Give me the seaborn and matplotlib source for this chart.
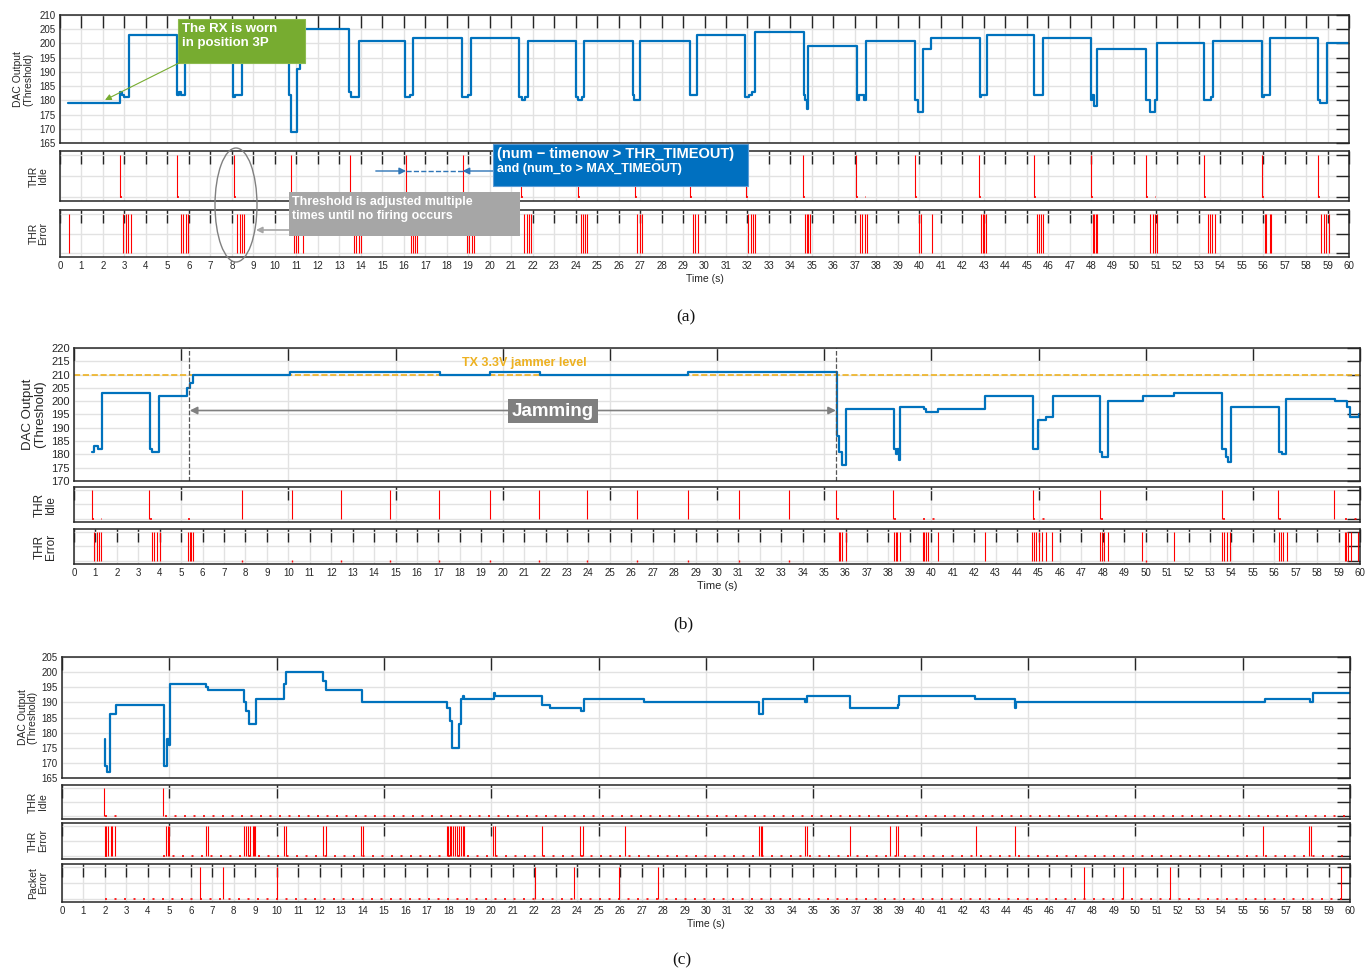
import numpy as np
import pandas as pd
import seaborn as sns
import matplotlib.pyplot as plt
from matplotlib.ticker import MultipleLocator
from matplotlib.patches import Rectangle, Ellipse

W, H = 1371, 969

# ---------------- (a) RX worn in position 3P ----------------
a_t = [0.37, 2.80, 2.88, 2.98, 3.20, 5.43, 5.55, 5.65, 5.82, 8.06, 8.15, 8.46,
       10.68, 10.74, 11.02, 11.15, 13.43, 13.54, 13.90, 16.07, 16.30, 16.45,
       18.71, 18.97, 19.12, 21.38, 21.50, 21.65, 21.77, 24.03, 24.10, 24.28, 24.37,
       26.66, 26.74, 27.01, 29.34, 29.65, 31.90, 32.05, 32.20, 32.34,
       34.62, 34.70, 34.75, 34.82, 37.10, 37.18, 37.41, 37.54, 39.82, 39.93, 40.18, 40.55,
       42.82, 42.88, 43.13, 45.36, 45.74, 47.97, 48.05, 48.13, 48.29,
       50.56, 50.73, 50.96, 51.05, 53.25, 53.56, 53.67, 55.94, 56.05, 56.32,
       58.58, 58.66, 58.96, 60.00]
a_v = [179, 183, 182, 181, 203, 182, 183, 182, 205, 181, 182, 205,
       182, 169, 191, 205, 183, 181, 201, 181, 182, 202,
       181, 182, 202, 181, 180, 181, 201, 181, 180, 181, 201,
       182, 180, 201, 182, 203, 181, 182, 183, 204,
       182, 180, 177, 199, 180, 182, 180, 201, 180, 176, 198, 202,
       181, 182, 203, 182, 202, 180, 182, 178, 198,
       180, 176, 180, 200, 180, 181, 201, 181, 182, 202,
       180, 179, 200, 200]
a_idle = [2.78, 5.45, 8.12, 10.76, 13.48, 16.11, 18.74, 21.46, 24.12, 26.76, 29.33,
          31.92, 34.60, 37.06, 39.78, 42.80, 45.36, 47.98, 50.55, 53.27, 55.95, 58.58]
a_err = [0.40, 2.95, 3.05, 3.18, 3.30, 5.62, 5.72, 5.85, 5.95, 8.25, 8.37, 8.47, 8.57,
         10.87, 10.98, 11.10, 11.30, 13.70, 13.80, 13.90, 14.00, 16.33, 16.43, 16.53, 16.63,
         18.95, 19.05, 19.17, 19.28, 21.62, 21.72, 21.82, 21.92, 24.25, 24.35, 24.45, 24.55,
         26.88, 26.98, 27.10, 29.45, 29.55, 29.70, 32.03, 32.15, 32.25, 32.37,
         34.68, 34.75, 34.82, 34.90, 37.22, 37.33, 37.45, 37.56, 40.00, 40.10, 40.57,
         42.88, 42.95, 43.02, 43.08, 45.47, 45.57, 45.67, 45.77, 48.08, 48.15, 48.22, 48.28,
         50.75, 50.87, 50.97, 51.08, 53.43, 53.53, 53.63, 53.74, 56.07, 56.15, 56.30, 56.37,
         58.70, 58.82, 58.93, 59.05]
# short runs of zero samples right after each idle firing
a_idle_zero = [(2.80, 3.20), (5.45, 5.80), (8.12, 8.50), (10.76, 11.05), (13.48, 13.85),
               (16.11, 16.45), (18.74, 19.10), (21.46, 21.75), (24.12, 24.40), (26.76, 27.05),
               (29.33, 29.65), (31.92, 32.30), (34.60, 34.85), (37.06, 37.50), (39.78, 40.20),
               (42.80, 43.10), (45.36, 45.75), (47.98, 48.30), (50.55, 51.00), (53.27, 53.65),
               (55.95, 56.30), (58.58, 58.95)]

# ---------------- (b) jamming ----------------
b_t = [0.82, 0.92, 1.13, 1.29, 3.55, 3.65, 3.95, 5.29, 5.43, 5.53, 10.10, 17.07, 19.39,
       21.74, 28.66, 35.59, 35.71, 35.83, 36.00, 38.26, 38.36, 38.42, 38.47, 38.53,
       39.66, 39.76, 40.33, 42.49, 44.73, 44.96, 45.37, 45.66, 47.88, 47.98, 48.25,
       49.87, 51.31, 53.57, 53.73, 53.83, 54.00, 56.24, 56.34, 56.57, 58.83, 59.38,
       59.55, 59.96, 60.00]
b_v = [181, 183, 182, 203, 182, 181, 202, 205, 207, 210, 211, 210, 211,
       210, 211, 187, 181, 176, 197, 182, 180, 182, 178, 198,
       197, 196, 197, 202, 182, 193, 194, 202, 181, 179, 200,
       202, 203, 182, 179, 177, 198, 181, 180, 201, 200, 198,
       194, 195, 195]
b_idle = [0.82, 3.50, 7.85, 10.16, 12.48, 14.73, 17.05, 19.39, 21.70, 23.93, 26.25,
          28.66, 31.03, 33.35, 35.55, 38.20, 44.73, 47.88, 53.55, 56.16, 58.79]
b_err = [0.95, 1.05, 1.15, 1.28, 3.65, 3.75, 3.88, 4.00, 5.33, 5.40, 5.48, 5.55,
         35.68, 35.75, 35.82, 36.00, 38.25, 38.35, 38.42, 38.52, 39.60, 39.68, 39.77, 39.86,
         40.33, 42.49, 44.72, 44.80, 44.90, 45.04, 45.14, 45.35, 45.62, 47.88, 47.95, 48.05,
         48.25, 49.83, 51.31, 53.57, 53.65, 53.78, 53.95, 56.24, 56.30, 56.42, 56.60,
         59.28, 59.35, 59.45, 59.60, 59.90]
b_idle_zero = [(0.85, 1.30), (3.55, 3.95), (5.30, 5.55), (35.60, 35.90), (38.25, 38.55),
               (39.60, 40.30), (44.75, 45.60), (47.90, 48.30), (53.60, 54.00), (56.20, 56.60),
               (59.30, 60.00)]
b_err_zero = [7.85, 10.16, 12.48, 14.73, 17.05, 19.39, 21.70, 23.93, 26.25, 28.66,
              31.03, 33.35, 50.00]
b_jam_start = 5.35
b_jam_end = 35.55
b_jammer_level = 210

# ---------------- (c) packet errors ----------------
c_t = [1.99, 2.01, 2.09, 2.25, 2.50, 4.75, 4.88, 4.98, 5.02, 6.72, 6.80, 8.50, 8.56, 8.71,
       9.02, 10.35, 10.45, 12.15, 12.30, 13.98, 17.93, 18.07, 18.18, 18.50, 18.57, 18.70,
       18.75, 20.12, 20.18, 22.34, 22.75, 24.18, 24.32, 27.09, 32.47, 32.67, 34.62, 34.70,
       36.72, 38.94, 39.00, 42.53, 44.38, 44.46, 56.03, 58.15, 58.29, 60.00]
c_v = [178, 169, 167, 186, 189, 169, 178, 176, 196, 195, 194, 190, 187, 183,
       191, 196, 200, 197, 194, 190, 188, 184, 175, 183, 191, 192,
       191, 193, 192, 189, 188, 187, 191, 190, 186, 191, 190, 192,
       188, 189, 192, 191, 188, 190, 191, 190, 193, 193]
c_idle = [1.95, 4.71]
c_err = [2.00, 2.07, 2.15, 2.27, 2.35, 2.48, 4.86, 4.95, 5.00, 6.72, 6.78, 8.50, 8.58,
         8.68, 8.78, 8.88, 8.95, 9.00, 10.35, 10.42, 12.15, 12.28, 13.95, 14.00, 17.93,
         18.00, 18.07, 18.13, 18.20, 18.30, 18.40, 18.50, 18.60, 18.68, 18.75, 20.08,
         20.15, 22.34, 24.15, 24.28, 26.23, 32.45, 32.55, 32.63, 34.62, 34.70, 36.72,
         38.57, 38.85, 38.95, 42.57, 44.38, 55.93, 58.09, 58.20]
c_pkt = [6.45, 7.50, 10.03, 22.05, 23.87, 25.97, 27.76, 47.62, 49.43, 51.62, 59.60]
c_idle_zero = [(2.00, 2.60), (4.80, 60.00)]
c_err_zero = [(2.00, 2.10), (4.70, 60.00)]
c_pkt_zero = [(2.00, 60.00)]

BLUE = '#0072BD'
RED = '#FF0000'
INK = '#262626'

sns.set_style('white')
plt.rcParams['font.family'] = ['Liberation Sans', 'DejaVu Sans']
plt.rcParams['axes.edgecolor'] = INK
plt.rcParams['axes.linewidth'] = 1.1

fig = plt.figure(figsize=(W / 100, H / 100), dpi=100)
TL = 13 * 0.72  # matlab style long ticks (px -> pt)


def add_ax(left, top, right, bottom):
    return fig.add_axes([left / W, 1 - bottom / H, (right - left) / W, (bottom - top) / H])


def style(ax, xstep, ylim, yticks, fs=7, ylabels=True):
    ax.set_xlim(0, 60)
    ax.set_ylim(*ylim)
    ax.xaxis.set_major_locator(MultipleLocator(xstep))
    ax.set_yticks(yticks)
    if not ylabels:
        ax.set_yticklabels([])
    ax.tick_params(direction='in', length=TL, width=1.0, top=True, right=True,
                   colors=INK, labelsize=fs, labelbottom=False, pad=3)
    ax.grid(True, color='#E2E2E2', lw=1)
    ax.set_axisbelow(True)
    for s in ax.spines.values():
        s.set_color(INK)
        s.set_linewidth(1.1)


def step(ax, t, v):
    df = pd.DataFrame({'t': t, 'v': v})
    sns.lineplot(data=df, x='t', y='v', ax=ax, drawstyle='steps-post', color=BLUE,
                 lw=1.6, estimator=None, sort=False)
    ax.set_xlabel('')


def events(ax, ev):
    ax.vlines(ev, 0, 1, color=RED, lw=0.8)


def zero_dots(ax, segs):
    for s, e in segs:
        ax.plot([s, e], [0, 0], color=RED, lw=1.2, ls=(0, (1.2, 4.5)))


def ylab(ax, text, x, fs):
    ax.set_ylabel(text, fontsize=fs, color=INK, linespacing=1.0)
    ax.yaxis.set_label_coords(x, 0.5)


def bottom_axis(ax, fs):
    ax.tick_params(labelbottom=True)
    ax.set_xlabel('Time (s)', fontsize=fs, color=INK, labelpad=2)


ev_ylim = (-0.1, 1.1)
ev_ticks = [0, 0.5, 1]

# ---------------- panel (a) ----------------
ax1 = add_ax(60, 15, 1349, 143)
step(ax1, a_t, a_v)
style(ax1, 1, (165, 210), range(165, 211, 5))
ylab(ax1, 'DAC Output\n(Threshold)', -0.021, 7.5)

ax2 = add_ax(60, 151, 1349, 201)
events(ax2, a_idle)
zero_dots(ax2, a_idle_zero)
style(ax2, 1, ev_ylim, ev_ticks, ylabels=False)
ylab(ax2, 'THR\nIdle', -0.009, 7.5)

ax3 = add_ax(60, 210, 1349, 257)
events(ax3, a_err)
style(ax3, 1, ev_ylim, ev_ticks, ylabels=False)
ylab(ax3, 'THR\nError', -0.009, 7.5)
bottom_axis(ax3, 7.5)

# blue timeout arrows between two idle firings
arr_blue = '#2E75B6'
ax2.annotate('', xy=(a_idle[5], 0.62), xytext=(14.7, 0.62), annotation_clip=False,
             arrowprops=dict(arrowstyle='-|>', color=arr_blue, lw=1.0, shrinkA=0, shrinkB=0,
                             mutation_scale=10))
ax2.annotate('', xy=(a_idle[6], 0.62), xytext=(20.2, 0.62), annotation_clip=False,
             arrowprops=dict(arrowstyle='-|>', color=arr_blue, lw=1.0, shrinkA=0, shrinkB=0,
                             mutation_scale=10))
ax2.plot([a_idle[5], a_idle[6]], [0.62, 0.62], color=arr_blue, lw=1.0, ls='--')

# ---------------- panel (b) ----------------
bx1 = add_ax(74, 348, 1360, 481)
step(bx1, b_t, b_v)
style(bx1, 5, (170, 220), range(170, 221, 5), fs=8)
ylab(bx1, 'DAC Output\n(Threshold)', -0.022, 9.5)
bx1.axhline(b_jammer_level, color='#EDB120', ls='--', lw=1.2, zorder=1.5)
bx1.axvline(b_jam_start, color='#555555', ls='--', lw=0.9)
bx1.axvline(b_jam_end, color='#555555', ls='--', lw=0.9)
bx1.text(21.0, 214.2, 'TX 3.3V jammer level', color='#EDB120', fontweight='bold',
         fontsize=9, ha='center', va='center')
bx1.annotate('', xy=(b_jam_start + 0.05, 196.5), xytext=(b_jam_end, 196.5),
             arrowprops=dict(arrowstyle='<|-|>', color='#808080', lw=1.2, shrinkA=0,
                             shrinkB=0, mutation_scale=11))
bx1.text(22.35, 196.3, 'Jamming', color='white', fontweight='bold', fontsize=13.5,
         ha='center', va='center',
         bbox=dict(boxstyle='square,pad=0.2', fc='#7F7F7F', ec='none'))

bx2 = add_ax(74, 487, 1360, 522)
events(bx2, b_idle)
zero_dots(bx2, b_idle_zero)
style(bx2, 5, ev_ylim, ev_ticks, ylabels=False)
ylab(bx2, 'THR\nIdle', -0.013, 8.5)

bx3 = add_ax(74, 529, 1360, 564)
events(bx3, b_err)
bx3.plot(b_err_zero, [0] * len(b_err_zero), ls='none', marker='|', ms=2, color=RED)
style(bx3, 1, ev_ylim, ev_ticks, ylabels=False)
ylab(bx3, 'THR\nError', -0.013, 8.5)
bottom_axis(bx3, 8)

# ---------------- panel (c) ----------------
cx1 = add_ax(62, 657, 1350, 778)
step(cx1, c_t, c_v)
style(cx1, 5, (165, 205), range(165, 206, 5))
ylab(cx1, 'DAC Output\n(Threshold)', -0.019, 7.5)

cx2 = add_ax(62, 785, 1350, 819)
events(cx2, c_idle)
zero_dots(cx2, c_idle_zero)
style(cx2, 5, ev_ylim, ev_ticks, ylabels=False)
ylab(cx2, 'THR\nIdle', -0.011, 7.5)

cx3 = add_ax(62, 823, 1350, 859)
events(cx3, c_err)
zero_dots(cx3, c_err_zero)
style(cx3, 5, ev_ylim, ev_ticks, ylabels=False)
ylab(cx3, 'THR\nError', -0.011, 7.5)

cx4 = add_ax(62, 864, 1350, 902)
events(cx4, c_pkt)
zero_dots(cx4, c_pkt_zero)
style(cx4, 1, ev_ylim, ev_ticks, ylabels=False)
ylab(cx4, 'Packet\nError', -0.011, 7.5)
bottom_axis(cx4, 7.5)

# ---------------- figure level callouts (pixel coords) ----------------
ov = fig.add_axes([0, 0, 1, 1], zorder=10)
ov.set_xlim(0, W)
ov.set_ylim(H, 0)
ov.axis('off')

ov.add_patch(Rectangle((178, 19), 127, 44, fc='#77AC30', ec='#8DBB4F', lw=0.8))
ov.text(182, 23, 'The RX is worn\nin position 3P', color='white', fontweight='bold',
        fontsize=9.5, ha='left', va='top', linespacing=1.25)
ov.annotate('', xy=(105, 100), xytext=(181, 62),
            arrowprops=dict(arrowstyle='-|>', color='#77AC30', lw=0.8, shrinkA=0,
                            shrinkB=0, mutation_scale=9))

ov.add_patch(Rectangle((493, 144), 255, 42, fc='#0070C0', ec='#5B9BD5', lw=0.8))
ov.text(497, 146.5, '(num \u2212 timenow > THR_TIMEOUT)', color='white', fontweight='bold',
        fontsize=10.5, ha='left', va='top')
ov.text(497, 163, 'and (num_to > MAX_TIMEOUT)', color='white', fontweight='bold',
        fontsize=9, ha='left', va='top')

ov.add_patch(Ellipse((236, 205), 42, 114, fill=False, ec='#808080', lw=1.0))
ov.add_patch(Rectangle((289, 192), 231, 44, fc='#A6A6A6', ec='none'))
ov.text(292, 196, 'Threshold is adjusted multiple\ntimes until no firing occurs',
        color='white', fontweight='bold', fontsize=9, ha='left', va='top', linespacing=1.25)
ov.annotate('', xy=(256, 230), xytext=(289, 230),
            arrowprops=dict(arrowstyle='-|>', color='#A6A6A6', lw=1.2, shrinkA=0,
                            shrinkB=0, mutation_scale=9))

for lab, x, y in [('(a)', 686, 317), ('(b)', 683, 624), ('(c)', 682, 960)]:
    ov.text(x, y, lab, family=['Liberation Serif', 'DejaVu Serif'], fontsize=12.5,
            ha='center', va='center', color='#111111')

fig.savefig('out.png', dpi=100)
